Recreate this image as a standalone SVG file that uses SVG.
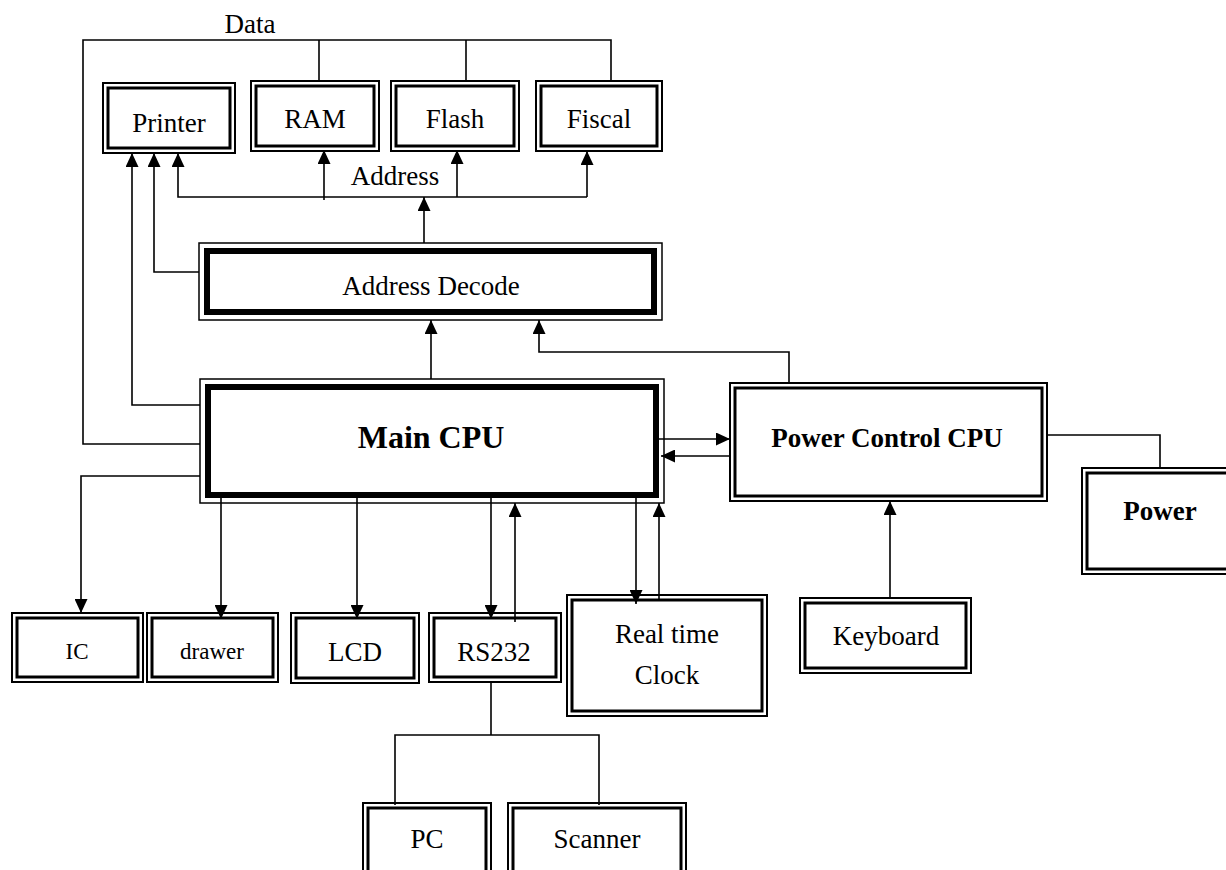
<svg xmlns="http://www.w3.org/2000/svg" width="1226" height="870" viewBox="0 0 1226 870">
<style>
.bg{fill:#fff}
.o{fill:#fff;stroke:#000;stroke-width:2}
.i{fill:none;stroke:#000;stroke-width:3}
.ob{fill:#fff;stroke:#000;stroke-width:1.5}
.ib{fill:none;stroke:#000;stroke-width:6}
.t{font-family:"Liberation Serif","Times New Roman",serif;font-size:27px;text-anchor:middle;fill:#000}
.s{font-size:23px}
.b{font-weight:bold}
.c{fill:none;stroke:#000;stroke-width:1.6}
</style>
<defs>
<marker id="arr" viewBox="0 0 14 13" refX="14" refY="6.5" markerWidth="14" markerHeight="13" markerUnits="userSpaceOnUse" orient="auto"><path d="M0,0 L14,6.5 L0,13 z" fill="#000"/></marker>
</defs>
<rect class="bg" width="1226" height="870"/>

<g id="printer"><rect class="o" x="103" y="83" width="132" height="70"/><rect class="i" x="108" y="88" width="122" height="60"/><text class="t" x="169" y="132">Printer</text></g>
<g id="ram"><rect class="o" x="251" y="81" width="128" height="70"/><rect class="i" x="256" y="86" width="118" height="60"/><text class="t" x="315" y="128">RAM</text></g>
<g id="flash"><rect class="o" x="391" y="81" width="128" height="70"/><rect class="i" x="396" y="86" width="118" height="60"/><text class="t" x="455" y="128">Flash</text></g>
<g id="fiscal"><rect class="o" x="536" y="81" width="126" height="70"/><rect class="i" x="541" y="86" width="116" height="60"/><text class="t" x="599" y="128">Fiscal</text></g>

<g id="address-decode"><rect class="ob" x="199" y="243" width="463" height="77"/><rect class="ib" x="207" y="251" width="447" height="61"/><text class="t" x="431" y="295">Address Decode</text></g>
<g id="main-cpu"><rect class="ob" x="200" y="379" width="464" height="124"/><rect class="ib" x="208" y="387" width="448" height="108"/><text class="t b" x="431" y="448" style="font-size:32px">Main CPU</text></g>
<g id="power-control-cpu"><rect class="o" x="730" y="383" width="317" height="118"/><rect class="i" x="735" y="388" width="307" height="108"/><text class="t b" x="887" y="447">Power Control CPU</text></g>
<g id="power"><rect class="o" x="1082" y="468" width="160" height="106"/><rect class="i" x="1087" y="473" width="150" height="96"/><text class="t b" x="1160" y="520">Power</text></g>

<g id="ic"><rect class="o" x="12" y="613" width="131" height="69"/><rect class="i" x="17" y="618" width="121" height="59"/><text class="t s" x="77" y="659">IC</text></g>
<g id="drawer"><rect class="o" x="147" y="613" width="131" height="69"/><rect class="i" x="152" y="618" width="121" height="59"/><text class="t s" x="212" y="659">drawer</text></g>
<g id="lcd"><rect class="o" x="291" y="613" width="128" height="70"/><rect class="i" x="296" y="618" width="118" height="60"/><text class="t" x="355" y="661">LCD</text></g>
<g id="rs232"><rect class="o" x="429" y="613" width="132" height="69"/><rect class="i" x="434" y="618" width="122" height="59"/><text class="t" x="494" y="661">RS232</text></g>
<g id="rtc"><rect class="o" x="567" y="595" width="200" height="121"/><rect class="i" x="572" y="600" width="190" height="111"/><text class="t" x="667" y="643">Real time</text><text class="t" x="667" y="684">Clock</text></g>
<g id="keyboard"><rect class="o" x="800" y="598" width="171" height="75"/><rect class="i" x="805" y="603" width="161" height="65"/><text class="t" x="886" y="645">Keyboard</text></g>
<g id="pc"><rect class="o" x="363" y="803" width="128" height="75"/><rect class="i" x="368" y="808" width="118" height="70"/><text class="t" x="427" y="848">PC</text></g>
<g id="scanner"><rect class="o" x="508" y="803" width="178" height="75"/><rect class="i" x="513" y="808" width="168" height="70"/><text class="t" x="597" y="848">Scanner</text></g>

<text class="t" x="250" y="33">Data</text>
<text class="t" x="395" y="185">Address</text>

<g id="connectors" class="c">
<path d="M200,444 H83 V40 H611 V81"/>
<path d="M319,40 V81"/>
<path d="M466,40 V81"/>
<path d="M200,476 H81 V613" marker-end="url(#arr)"/>
<path d="M200,405 H132 V153" marker-end="url(#arr)"/>
<path d="M199,272 H154 V153" marker-end="url(#arr)"/>
<path d="M424,243 V197" marker-end="url(#arr)"/>
<path d="M587,197 H178 V153" marker-end="url(#arr)"/>
<path d="M324,200 V150" marker-end="url(#arr)"/>
<path d="M457,197 V150" marker-end="url(#arr)"/>
<path d="M587,197 V151" marker-end="url(#arr)"/>
<path d="M431,379 V320" marker-end="url(#arr)"/>
<path d="M789,383 V352 H539 V320" marker-end="url(#arr)"/>
<path d="M659,439 H730" marker-end="url(#arr)"/>
<path d="M730,456 H661" marker-end="url(#arr)"/>
<path d="M1047,435 H1160 V468"/>
<path d="M890,598 V501" marker-end="url(#arr)"/>
<path d="M221,497 V619" marker-end="url(#arr)"/>
<path d="M357,497 V619" marker-end="url(#arr)"/>
<path d="M491,497 V619" marker-end="url(#arr)"/>
<path d="M515,622 V503" marker-end="url(#arr)"/>
<path d="M636,497 V604" marker-end="url(#arr)"/>
<path d="M659,600 V503" marker-end="url(#arr)"/>
<path d="M491,682 V735"/>
<path d="M395,805 V735 H599 V805"/>
</g>
</svg>
